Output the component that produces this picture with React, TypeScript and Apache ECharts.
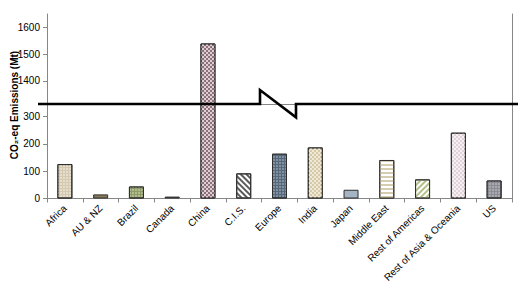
import React, { useEffect, useRef } from 'react';
import * as echarts from 'echarts';

// ---- data ----
const regions = [
  'Africa', 'AU & NZ', 'Brazil', 'Canada', 'China', 'C.I.S.', 'Europe', 'India',
  'Japan', 'Middle East', 'Rest of Americas', 'Rest of Asia & Oceania', 'US',
];
const emissions = [126, 15, 44, 7, 1540, 92, 164, 187, 32, 141, 70, 241, 66];
const lowerTicks = [0, 100, 200, 300];
const upperTicks = [1400, 1500, 1600];
const lowerRange = [0, 346];
const upperRange = [1314, 1650];
const yAxisTitle = 'CO\u2082-eq Emissions (Mt)';

// ---- styles ----
const FONT = 'Liberation Sans, Arial, sans-serif';
const AXIS = '#868686';

const dots = (color: string) => ({
  symbol: 'rect', symbolSize: 0.7, dashArrayX: [2, 1], dashArrayY: [2, 1], color,
});
const checker = (color: string) => ({
  symbol: 'rect', symbolSize: 1, dashArrayX: [[2, 2], [0, 2, 2, 0]], dashArrayY: [2, 0], color,
});
const diag = (color: string, rotation: number) => ({
  symbol: 'rect', symbolSize: 1, dashArrayX: [1, 0], dashArrayY: [1.5, 2], rotation, color,
});
const horiz = (color: string) => ({
  symbol: 'rect', symbolSize: 1, dashArrayX: [1, 0], dashArrayY: [2, 2], color,
});

const barStyles: any[] = [
  { color: '#d4c8ae', decal: dots('rgba(255,255,255,0.75)') },
  { color: '#8a7b5c' },
  { color: '#8e9a6a', decal: dots('rgba(215,225,180,0.9)') },
  { color: '#4a4a4a' },
  { color: '#8e7078', decal: checker('rgba(225,212,216,0.95)') },
  { color: '#ffffff', decal: diag('#5a5a5a', Math.PI / 4) },
  { color: '#56687a', decal: dots('rgba(170,188,204,0.9)') },
  { color: '#d6c9a6', decal: checker('rgba(240,234,218,0.95)') },
  { color: '#a4b4c4' },
  { color: '#ffffff', decal: horiz('#d6ccb0') },
  { color: '#ffffff', decal: diag('#b4c08a', -Math.PI / 4) },
  { color: '#e2d2d9', decal: checker('rgba(246,240,242,0.95)') },
  { color: '#8c8c94', decal: dots('rgba(196,196,204,0.95)') },
];

export default function App() {
  const ref = useRef<HTMLDivElement>(null);

  useEffect(() => {
    document.body.style.margin = '0';
    if (!ref.current) return;
    const chart = echarts.init(ref.current, undefined, { renderer: 'svg' });

    const mkData = (vals: (number | string)[]) =>
      vals.map((v, i) => ({
        value: v,
        itemStyle: { ...barStyles[i], borderColor: '#2e2e2e', borderWidth: 1 },
      }));

    const upperData = emissions.map((v) => (v > upperRange[0] ? v : '-'));

    const labelStyle = { fontSize: 10, color: '#000', fontFamily: FONT };
    const plain = (v: number) => String(v);

    chart.setOption({
      animation: false,
      backgroundColor: '#fff',
      textStyle: { fontFamily: FONT },
      grid: [
        { left: 47, right: 13, top: 14, height: 90 },
        { left: 47, right: 13, top: 104, height: 94.5 },
      ],
      xAxis: [
        {
          gridIndex: 0, type: 'category', data: regions, position: 'top',
          axisLine: { show: true, lineStyle: { color: AXIS, width: 1 } },
          axisTick: { show: false }, axisLabel: { show: false }, splitLine: { show: false },
        },
        {
          gridIndex: 1, type: 'category', data: regions,
          axisLine: { show: true, lineStyle: { color: AXIS, width: 1 } },
          axisTick: { show: true, length: 4, lineStyle: { color: AXIS } },
          axisLabel: { ...labelStyle, rotate: 45, interval: 0, margin: 8 },
          splitLine: { show: false },
        },
      ],
      yAxis: [
        {
          gridIndex: 0, type: 'value', min: upperRange[0], max: upperRange[1],
          axisLine: { show: true, lineStyle: { color: AXIS } },
          axisTick: { show: true, length: 4, customValues: upperTicks, lineStyle: { color: AXIS } },
          axisLabel: { ...labelStyle, customValues: upperTicks, margin: 7, formatter: plain },
          splitLine: { show: false },
        },
        {
          gridIndex: 0, type: 'value', position: 'right',
          axisLine: { show: true, lineStyle: { color: AXIS } },
          axisTick: { show: false }, axisLabel: { show: false }, splitLine: { show: false },
        },
        {
          gridIndex: 1, type: 'value', min: lowerRange[0], max: lowerRange[1],
          axisLine: { show: true, lineStyle: { color: AXIS } },
          axisTick: { show: true, length: 4, customValues: lowerTicks, lineStyle: { color: AXIS } },
          axisLabel: { ...labelStyle, customValues: lowerTicks, margin: 7, formatter: plain },
          splitLine: { show: false },
        },
        {
          gridIndex: 1, type: 'value', position: 'right',
          axisLine: { show: true, lineStyle: { color: AXIS } },
          axisTick: { show: false }, axisLabel: { show: false }, splitLine: { show: false },
        },
      ],
      series: [
        {
          type: 'bar', xAxisIndex: 0, yAxisIndex: 0, barWidth: 15, clip: true,
          data: mkData(upperData),
        },
        {
          type: 'bar', xAxisIndex: 1, yAxisIndex: 2, barWidth: 15, clip: true,
          data: mkData(emissions),
        },
      ],
      graphic: [
        {
          type: 'polyline', z: 100, silent: true,
          shape: { points: [[38, 104], [260, 104], [260, 90], [296, 117.3], [296, 104], [518, 104]] },
          style: { stroke: '#000', lineWidth: 2.6, fill: null },
        },
        {
          type: 'text', x: 14, y: 105, rotation: Math.PI / 2, z: 100, silent: true,
          style: {
            text: yAxisTitle, fontSize: 10, fontWeight: 'bold', fontFamily: FONT,
            fill: '#000', align: 'center', verticalAlign: 'middle',
          },
        },
      ],
    });

    return () => chart.dispose();
  }, []);

  return <div ref={ref} style={{ width: 525, height: 286 }} />;
}
